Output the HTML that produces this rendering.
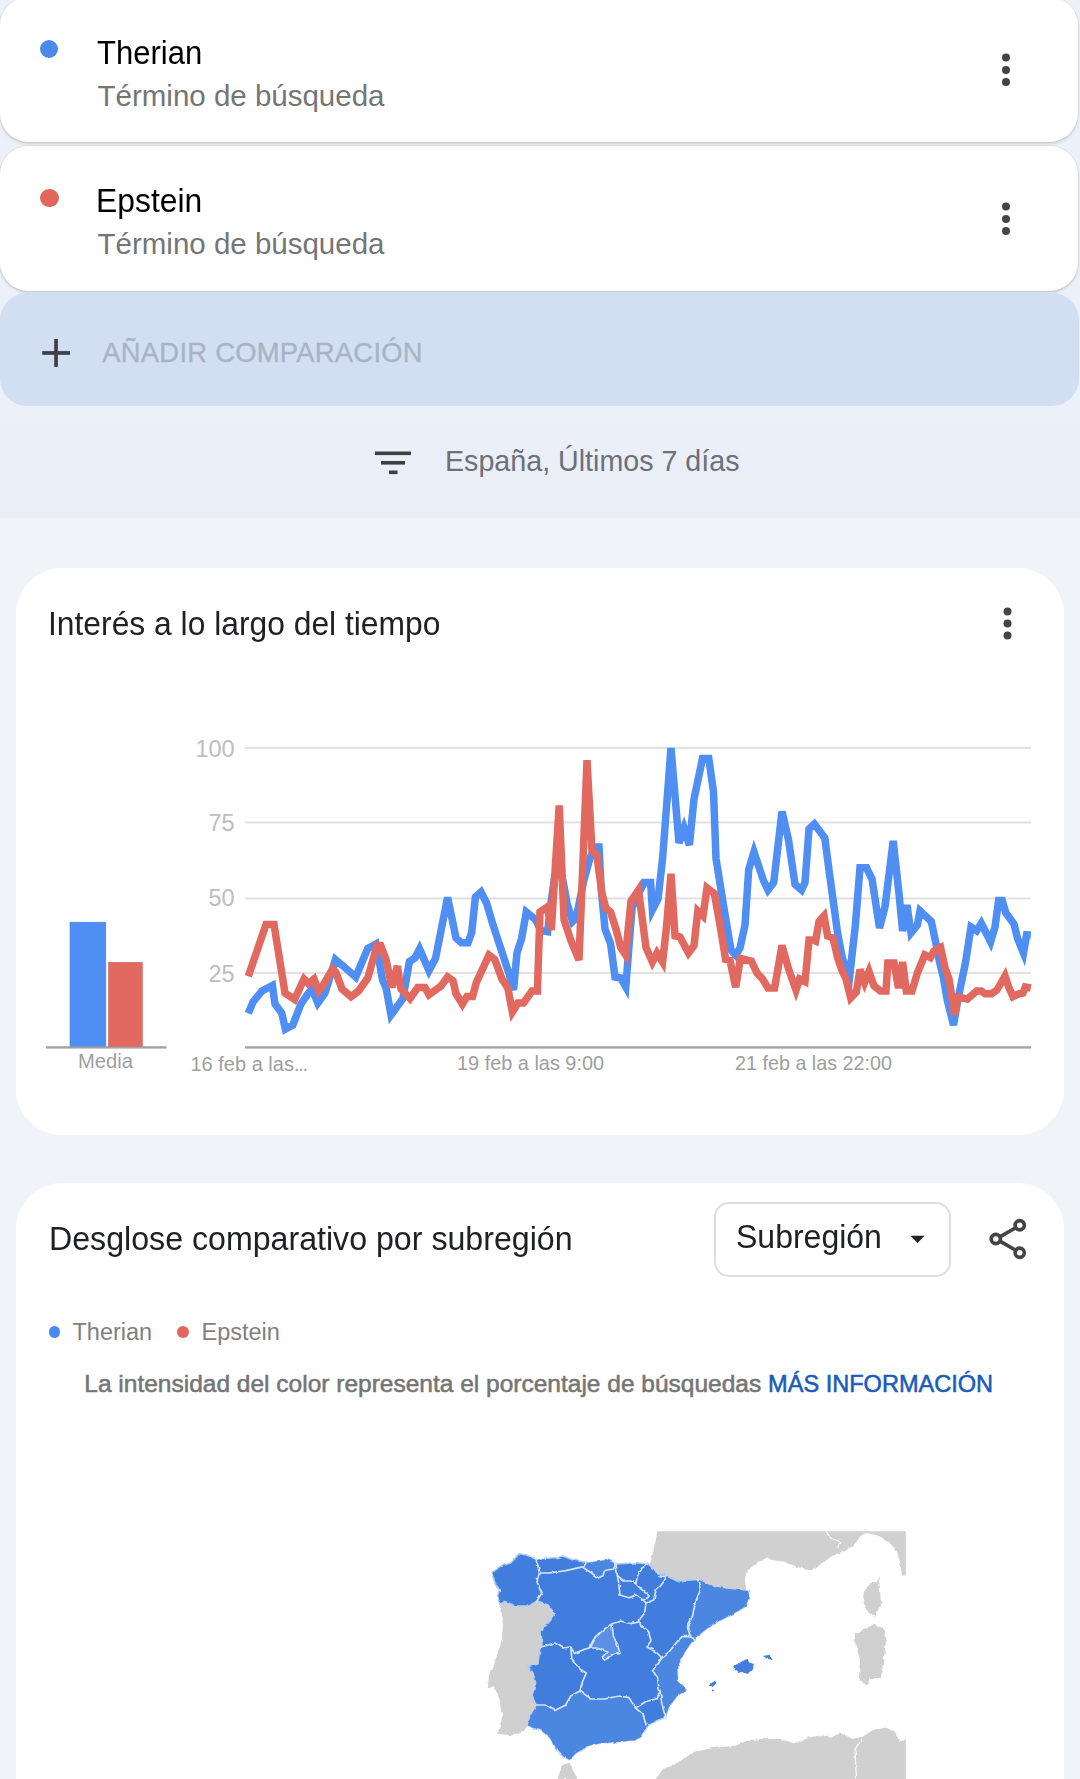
<!DOCTYPE html>
<html lang="es">
<head>
<meta charset="utf-8">
<title>Google Trends</title>
<style>
*{box-sizing:border-box;margin:0;padding:0}
html,body{width:1080px;height:1779px;overflow:hidden}
body{position:relative;background:#f0f4f9;font-family:"Liberation Sans",sans-serif;color:#202124}
.abs{position:absolute;white-space:nowrap;line-height:1}
#topbg{position:absolute;left:0;top:0;width:1080px;height:517.6px;background:linear-gradient(#ecf0f8 0,#ecf0f8 405px,#e8edf6 517px)}
.term{position:absolute;left:0;width:1077.5px;height:145px;background:#fff;border-radius:28.5px;box-shadow:0 0 0 1px rgba(0,0,0,.05),0 2px 3px 0 rgba(0,0,0,.13)}
#t1{top:-3px}
#t2{top:146px}
.dot{position:absolute;border-radius:50%}
#addbtn{position:absolute;left:0;top:292.6px;width:1079px;height:113.2px;background:#d2dff2;border-radius:27px}
.card{position:absolute;left:16px;width:1047.5px;background:#fff;border-radius:46px}
#c1{top:567.7px;height:567px}
#c2{top:1182.5px;height:700px}
#ov{position:absolute;left:0;top:0;width:1080px;height:1779px}
.t-title{font-size:34px;color:#000;transform:scaleX(.913);transform-origin:0 0}
.t-sub{font-size:29.5px;color:#757575}
.h{font-size:33.3px;color:#202124;transform-origin:0 0;transform:scaleX(.955)}
.ax{font-size:20px;color:#9e9e9e}
.yl{font-size:23.5px;color:#bdbdbd;text-align:right;width:60px}
</style>
</head>
<body>
<div id="topbg"></div>

<!-- search term cards -->
<div class="term" id="t1"></div>
<div class="term" id="t2"></div>
<div id="addbtn"></div>

<div class="dot" style="left:39.8px;top:39.8px;width:18.5px;height:18.5px;background:#4a89ee"></div>
<div class="abs t-title" style="left:97.3px;top:34.9px">Therian</div>
<div class="abs t-sub" style="left:97.5px;top:81px">Término de búsqueda</div>

<div class="dot" style="left:40.3px;top:188.5px;width:18.6px;height:18.6px;background:#e2665c"></div>
<div class="abs t-title" style="left:95.4px;top:183.2px;transform:scaleX(.937);margin-left:.6px">Epstein</div>
<div class="abs t-sub" style="left:97.5px;top:229.4px">Término de búsqueda</div>

<div class="abs" style="left:102.3px;top:338.6px;font-size:27.4px;letter-spacing:.25px;color:#a8b4c6;-webkit-text-stroke:.35px #a8b4c6">AÑADIR COMPARACIÓN</div>
<div class="abs" style="left:445px;top:446.8px;font-size:28.65px;color:#6b7079">España, Últimos 7 días</div>

<!-- cards -->
<div class="card" id="c1"></div>
<div class="card" id="c2"></div>

<div class="abs h" style="left:47.8px;top:606.9px">Interés a lo largo del tiempo</div>
<div class="abs h" style="left:48.9px;top:1221.6px;transform:scaleX(.9655)">Desglose comparativo por subregión</div>

<!-- y labels -->
<div class="abs yl" style="left:174.6px;top:738.3px">100</div>
<div class="abs yl" style="left:174.6px;top:812.4px">75</div>
<div class="abs yl" style="left:174.6px;top:887.4px">50</div>
<div class="abs yl" style="left:174.6px;top:962.5px">25</div>
<!-- x labels -->
<div class="abs ax" style="left:78px;top:1050.5px;font-size:20.2px;color:#9e9e9e">Media</div>
<div class="abs ax" style="left:190.5px;top:1054px">16 feb a las<span style="letter-spacing:-1.3px">...</span></div>
<div class="abs ax" style="left:457px;top:1054px;font-size:19.9px">19 feb a las 9:00</div>
<div class="abs ax" style="left:735px;top:1054px;font-size:19.75px">21 feb a las 22:00</div>

<!-- dropdown -->
<div style="position:absolute;left:714px;top:1202px;width:237px;height:75px;border:2px solid #dcdddf;border-radius:15px;background:#fff"></div>
<div class="abs" style="left:736.2px;top:1220.4px;font-size:33.3px;transform-origin:0 0;transform:scaleX(.961);color:#202124">Subregión</div>

<!-- legend -->
<div class="dot" style="left:48.5px;top:1325.8px;width:11.8px;height:11.8px;background:#4a8af0"></div>
<div class="abs" style="left:72.5px;top:1320.5px;font-size:23.5px;color:#7f7f7f">Therian</div>
<div class="dot" style="left:177.1px;top:1325.8px;width:11.8px;height:11.8px;background:#e2665c"></div>
<div class="abs" style="left:201.5px;top:1320.5px;font-size:23.5px;color:#7f7f7f">Epstein</div>
<div class="abs" id="note" style="left:84.3px;top:1372px;font-size:24.5px;color:#757575;-webkit-text-stroke:.55px #757575">La intensidad del color representa el porcentaje de búsquedas <span style="color:#1a5cb8;font-size:23.55px;-webkit-text-stroke:.55px #1a5cb8">MÁS INFORMACIÓN</span></div>

<!-- overlay svg: icons, chart, map -->
<svg id="ov" viewBox="0 0 1080 1779">
<g fill="#444">
<circle cx="1006" cy="57.5" r="4"/><circle cx="1006" cy="70" r="4"/><circle cx="1006" cy="82" r="4"/>
<circle cx="1006" cy="206.5" r="4"/><circle cx="1006" cy="219" r="4"/><circle cx="1006" cy="231" r="4"/>
<circle cx="1007.5" cy="611.5" r="4"/><circle cx="1007.5" cy="623.5" r="4"/><circle cx="1007.5" cy="635.5" r="4"/>
</g>
<g fill="#3c4043">
<rect x="42.2" y="351.1" width="27.8" height="3.7"/><rect x="54.2" y="339" width="3.7" height="27.9"/>
<rect x="375" y="451.5" width="36" height="3.6"/><rect x="381" y="461" width="24" height="3.6"/><rect x="389" y="470.5" width="8.5" height="3.6"/>
</g>
<path d="M910.5 1235.8h14l-7 7.2z" fill="#202124"/>
<g fill="none" stroke="#444" stroke-width="3.7">
<circle cx="1019.7" cy="1225.3" r="4.6"/><circle cx="995.8" cy="1239" r="4.6"/><circle cx="1019.7" cy="1252.7" r="4.6"/>
<path d="M1000.3 1236.6L1015.3 1228M1000.3 1241.4L1015.3 1250"/>
</g>

<g fill="#dfdfdf">
<rect x="245" y="746.9" width="786" height="1.9"/><rect x="245" y="821.5" width="786" height="1.9"/><rect x="245" y="897.5" width="786" height="1.9"/><rect x="245" y="971.9" width="786" height="1.9"/>
</g>
<rect x="245" y="1046.2" width="786" height="2.4" fill="#a3a3a3"/>
<rect x="46" y="1046.2" width="120.5" height="2.4" fill="#a3a3a3"/>
<rect x="70" y="922.2" width="35.8" height="124" fill="#4f8ef2" stroke="#4a84e0" stroke-width=".6"/>
<rect x="108.5" y="962.3" width="33.8" height="84" fill="#e16960" stroke="#d0625a" stroke-width=".6"/>
<clipPath id="cc"><rect x="245" y="746" width="788" height="300"/></clipPath>
<g clip-path="url(#cc)" fill="none" stroke-width="7.5" stroke-linejoin="miter" stroke-miterlimit="4">
<polyline stroke="#4f8ef2" points="248.3,1013.3 253,1002 262,991 272.4,985.5 275,1004 281.7,1013 285.4,1029 292.8,1025 301,1004 308.5,993 312,989 317.8,1003 325,993 335.4,959.5 342,965 355.7,977 367.8,948.5 376,944 382.6,980 386.3,989 391,1015 403,998.5 409.4,961.5 415,957.8 419.6,949 429,970.7 435.5,958.5 447.6,897.5 456,938 461.5,942.8 468,942.8 471.7,932.6 475.4,897 481,892 486.5,903 493,925 500.4,947.4 508.5,972 513.5,990 517,953 521.7,938 526.3,912 535.6,919.6 541,930.7 547.6,931.7 551.3,901 554.5,878 559,868 563,881 567,903 572.6,921.5 576.3,917.8 583.7,880.7 590,858 595.3,847 599,847 601.3,890 605,929 610.6,943.7 615,977 620.7,978 625.8,987 632,908 638,895 644,882.6 650.6,882.6 652.4,910 658,899 662.6,858.5 671,748 679,843 684,828 689.4,845 694,799 702.5,758.5 708.8,758.5 713.5,791.8 716,858.5 723.7,906.7 731,950 735.7,955 740,948 745,925 748.7,869.6 754,852 763.5,880.7 768,890 773.7,882.6 782,811.5 788.5,840 795,884.4 801.5,890 805,882.6 809,829 814.4,824 824.8,838 829.4,873 837.8,934.4 842.4,958.5 849.8,975 855.4,925 860,867.8 866.5,867.8 872,879 879.5,928 885,906.7 893.2,841 899,893.7 902.6,931 907,905 911,933 917.4,925 920,911 931.3,921.5 936,943.7 939.6,962 943.3,977 947,999 953.5,1025 958,999 965.6,962 971,927 976.7,930.7 981.3,923.3 990.6,941.8 995,927 998.6,900.5 1002.2,900.5 1005.8,912.8 1014,924 1017.6,938.7 1023.5,953 1026.6,934.8 1030.8,935"/>
<polyline stroke="#e16960" points="248.3,976.3 266,924.5 274,924.5 285,993 294.6,999.4 304,979 308.5,983.7 314,979 318.7,991 323,985.5 332.6,969 336,972.6 342,989 351,996.7 358.5,991 367.8,978 377,945.5 380.7,945.5 386,959.6 392,987.4 397.4,966 401,989 410,998.5 417.8,987.4 425,987.4 429,994.8 441,986 447.6,977 453,980.7 456,993.7 462.4,1004 467,996.5 472.6,996.5 476.3,982.6 489,955 494.8,959.5 502,979 507.8,988 512.4,1012 518,1003 523.5,1003 532,991 537.4,991 540,912 547.6,906.7 551.3,930 559.2,805.5 564,919.6 570.7,940 579,960 587,760.2 592,851 596.7,854.8 602,893.7 606,908.5 610.6,912 616,929 620.7,947.4 625.6,954.8 631,901 638.5,890 646,947.4 652.4,962 657,953 662.6,962 666.3,929 671,873.7 675,936 680,937 688.5,953 694,945.6 697.8,911 703,916 707,888 714.4,893.7 720,925 725.6,959.4 730,960.4 735.7,987.2 740.4,958.5 751.5,961.3 757,973 762.6,979 768,988 774.6,988 782,945.5 788.5,968.7 796,990 799.6,979 805,981.7 809,940 813.5,940 815.6,941 819,921.5 824,916 827.6,936 833,938 837.8,958.5 842.4,971.5 846,979 850.7,998 856.3,992 860,969.6 864.6,982.6 869,971.5 874,986 880.4,991 886,991 887.8,963 894,963 898.5,988 902.6,962 906.3,991 912,991 917.4,973 924.8,954.8 930.4,957.6 934,951 940.6,947.4 945,967.8 949,979 954.6,1014.6 958,997.4 967.4,999 976.7,991 981.3,991 985,993.7 991.5,993.7 997,990 1005,976 1008.6,987 1013,996.6 1018.7,993.8 1023,993 1025.4,987 1030.8,988"/>
</g>

<filter id="mb" x="-5%" y="-5%" width="110%" height="110%"><feTurbulence type="fractalNoise" baseFrequency="0.16" numOctaves="2" seed="7" result="n"/><feDisplacementMap in="SourceGraphic" in2="n" scale="3.2" xChannelSelector="R" yChannelSelector="G" result="d"/><feGaussianBlur in="d" stdDeviation=".5"/></filter><!--MAPSTART--><clipPath id="mc"><rect x="470" y="1531.3" width="435.8" height="260"/></clipPath><g clip-path="url(#mc)"><g id="map" filter="url(#mb)">
<g fill="#d0d0d0"><polygon points="515,1606 505,1601.5 500,1604.5 501.5,1612 503,1623.7 502,1639 498,1652 493,1667.8 489,1675.6 487.8,1688.5 494,1686 499.4,1699 502,1717 498,1734 511,1735 524,1731 528,1724.8 530.6,1715.7 537,1706.7 531.9,1696 535.7,1683 533,1673 528,1666.5 538,1664 539.6,1649.6 542,1644.5 541,1631.5 550,1621 555,1614 547.5,1604.5 537,1601 529,1606"/><polygon points="659.1,1524 912,1524 912,1574.4 902,1575.7 900.6,1564 896.7,1551 889,1542 878.5,1535.6 865.6,1533 859,1536.9 852.6,1547 842,1552.4 832,1556 821.5,1564 811,1570.6 803,1569 793,1565 782.6,1561.5 772,1560 767,1557.6 756.7,1562.8 747.6,1570.6 745,1578 746,1590 739,1590 726,1588.7 713,1586 697.8,1579.6 677,1581 666.7,1575.7 656,1572 649,1565 651.7,1559"/><polygon points="878.5,1575.7 879.8,1587.4 881,1605.6 874.6,1617 868,1612 863,1600 864,1590 870.7,1583.5 877,1582"/><polygon points="874.6,1623.7 883.7,1629 886,1642 883.7,1660 881,1678 870.7,1678 865.6,1686 859,1678 860,1660 855,1642 855,1634 865.6,1629"/><polygon points="655.6,1779 663,1769 673.7,1765 684,1758.5 694.4,1752 712.6,1748 736,1745.6 749,1740 762,1739 780,1739 795.6,1744 808.5,1737.8 821.5,1735 832,1737.8 839.6,1732.6 852.6,1739 863,1736.5 873,1730 886,1727.4 896.7,1732.6 899,1741.7 905.8,1739 912,1739 912,1790 655.6,1790"/><polygon points="557.8,1779 561.7,1766 569.4,1762.4 574.6,1772.8 577,1779"/></g>
<g fill="none" stroke="#fff" stroke-width="1.2" opacity=".9"><polyline points="826,1531 830.6,1538 841,1542 838,1548.5"/><polyline points="861.7,1739 855,1749.5 856.5,1779"/></g>
<polygon points="491.7,1573 499.4,1566.7 511,1562.8 519,1553.7 526.7,1555 535.7,1559 557.8,1557.6 563,1556 573,1560 589,1562.8 607,1560 617.4,1564 635.6,1562.8 648.5,1564 656,1572 666.7,1575.7 677,1581 697.8,1579.6 713,1586 726,1588.7 739,1590 748,1591 749.6,1597.8 744.5,1607 729,1616 713,1623.7 700,1634 692.6,1640.6 684.8,1652 677,1667.8 678,1680.7 686,1690 677,1696 669,1706.7 665,1718 659,1719.6 648.5,1725 642,1735 635.6,1740 620,1741.7 601.9,1743 589,1745.6 576,1753 569.4,1759.8 563,1756 555,1748 550,1737.8 542,1731 531.9,1727.4 528,1724.8 530.6,1715.7 537,1706.7 531.9,1696 535.7,1683 533,1673 528,1666.5 538,1664 539.6,1649.6 542,1644.5 541,1631.5 550,1621 555,1614 547.5,1604.5 537,1601 529,1606 515,1606 505,1601.5 500,1604.5 497.5,1596 499.5,1590 495,1583 493,1577" fill="#417ddd" stroke="#b4cef5" stroke-width="1.5" stroke-linejoin="round"/>
<g fill="#4b86e1"><polygon points="697.8,1579.6 713,1586 726,1588.7 739,1590 748,1591 749.6,1597.8 744.5,1607 729,1616 713,1623.7 700,1634 695,1639 690,1636.7 687.4,1626 692.6,1616 695,1603 700.4,1590"/><polygon points="695,1639 692.6,1640.6 684.8,1652 677,1667.8 678,1680.7 686,1690 677,1696 669,1706.7 665,1718 664,1712 661.5,1701.5 660,1691 659,1688.5 657.6,1678 652.4,1670 659,1662.6 661.5,1657.4 669,1652 677,1641.9 682,1636.7 687.4,1636.7 690,1636.7"/><polygon points="528,1724.8 530.6,1715.7 537,1705 544.8,1705 555,1710.6 565.6,1705 570.7,1696 579.8,1691 591.5,1699 604.5,1699 620,1696 629,1697.6 635.6,1708 643,1714.5 646,1724.8 642,1735 635.6,1740 620,1741.7 601.9,1743 589,1745.6 576,1753 569.4,1759.8 563,1756 555,1748 550,1737.8 542,1731 531.9,1727.4"/></g><polygon points="594,1640.6 604.5,1630 612,1625 613.5,1636.7 617.4,1644.5 620,1653.5 612,1654.8 604.5,1660 602,1657.4 607,1652 596.7,1648 590,1648" fill="#5a91e5"/><polygon points="586,1562.8 589,1562.8 607,1560 616,1564 613.5,1569 604.5,1570.6 603,1575.7 598,1578 591.5,1573 583.7,1568" fill="#4b86e1"/>
<g fill="#417ddd"><polygon points="733,1667.8 739.8,1662.6 747.6,1658.7 749,1662.6 754,1664 751.5,1670 747.6,1674 742,1671.7 738.5,1673"/><polygon points="763,1656 769.6,1654.8 772.7,1660 767,1658.7"/><polygon points="709.5,1684.6 715,1680.7 716.5,1683 712.6,1687"/><circle cx="712.8" cy="1690.6" r="1"/></g>
<g fill="none" stroke="#d3e3fa" stroke-width="1.7" stroke-linejoin="round" stroke-linecap="round"><polyline points="535.7,1559 539.6,1572 537,1582 542,1592.6 537,1601"/><polyline points="539.6,1573 550,1573 565.6,1570.6 583.7,1566.7 586,1562.8"/><polyline points="583.7,1568 591.5,1573 598,1578 603,1575.7 604.5,1570.6 613.5,1569 616,1564"/><polyline points="616,1564 617.4,1575.7 624,1581 630.4,1581 635.6,1583.5 638,1575.7 642,1568 647,1564.6"/><polyline points="617.4,1575.7 618.7,1583.5 620,1595 629,1597.8 635.6,1595 643,1600 649.8,1596.5 640.7,1588.7 635.6,1583.5"/><polyline points="659,1575.7 666.7,1577 661.5,1584.8 656,1590 653.7,1600 646,1603 643,1600"/><polyline points="646,1603 644.6,1613 639.5,1619.8 640.7,1625 648.5,1631.5 651,1640.6 647,1647 656,1652 661.5,1657.4 669,1652 677,1641.9 682,1636.7 690,1636.7 695,1639"/><polyline points="697.8,1579.6 700.4,1590 695,1603 692.6,1616 687.4,1626 690,1636.7"/><polyline points="541,1647 555,1643 563,1648 570.7,1647 574.6,1653.5 583.7,1649.6 589,1648 594,1639 604.5,1629 612,1623.7 621,1621 630.4,1623.7 639.5,1622"/><polyline points="594,1640.6 590,1648 596.7,1648 607,1652 602,1657.4 604.5,1660 612,1654.8 620,1653.5 617.4,1644.5 613.5,1636.7 612,1625"/><polyline points="570.7,1648 572,1660 579.8,1669 586.3,1673 582.4,1682 579.8,1691 570.7,1696 565.6,1705 555,1710.6 544.8,1705 537,1705"/><polyline points="579.8,1691 591.5,1699 604.5,1699 620,1696 629,1697.6 635.6,1708 646,1701.5 656,1699 660,1691 661.5,1701.5 664,1712 666,1718"/><polyline points="635.6,1708 643,1714.5 646,1724.8"/><polyline points="661.5,1657.4 659,1662.6 652.4,1670 657.6,1678 659,1688.5 660,1691"/></g>
</g></g>
<!--MAPEND-->
</svg>
</body>
</html>
